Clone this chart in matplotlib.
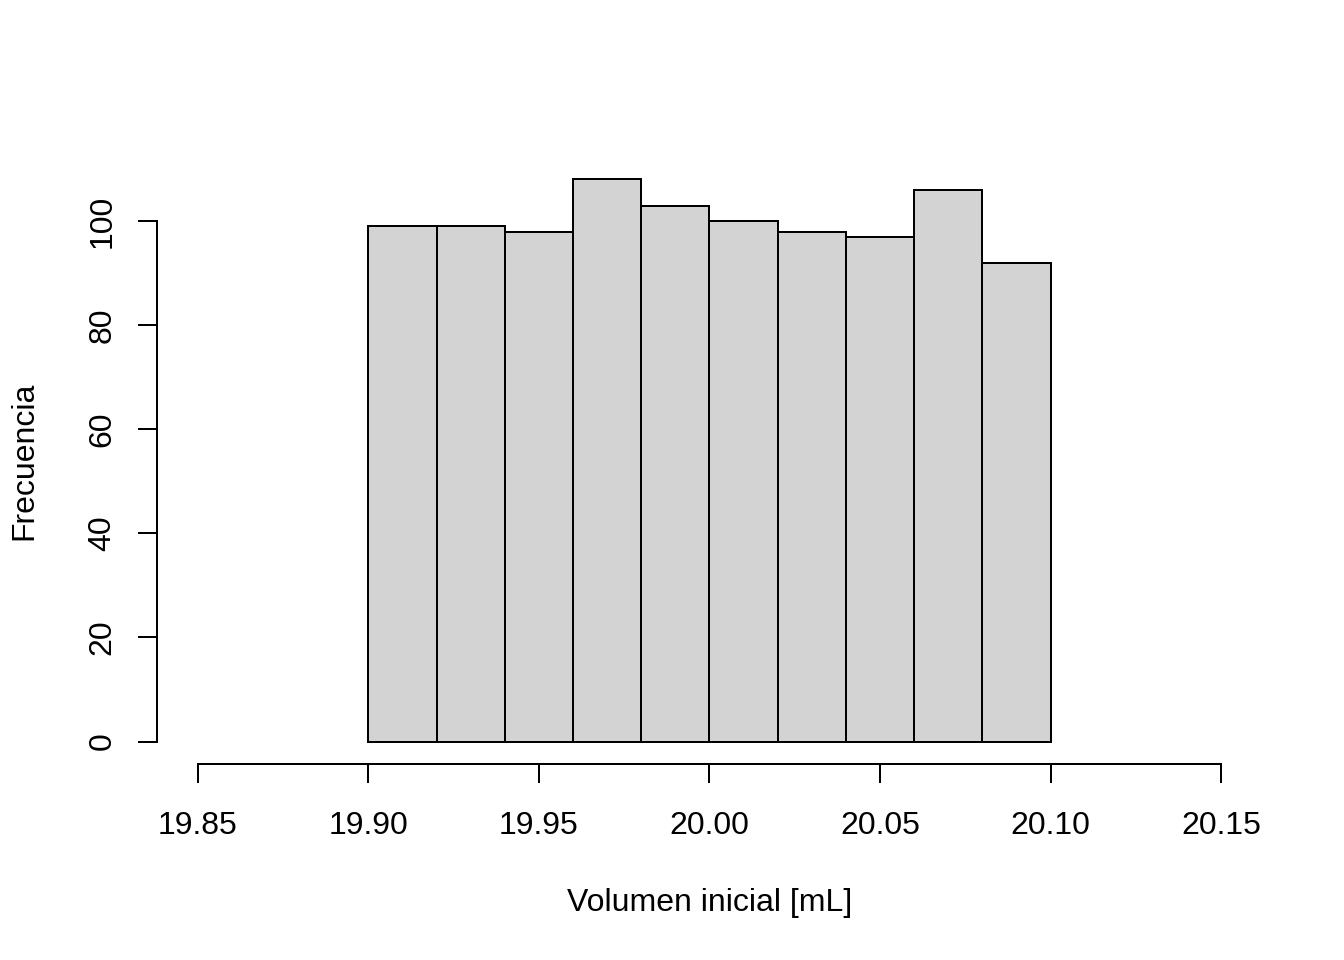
import matplotlib
matplotlib.use("Agg")
import matplotlib.pyplot as plt
import numpy as np

plt.rcParams['font.family'] = ['Liberation Sans', 'DejaVu Sans']

bin_edges = [19.90, 19.92, 19.94, 19.96, 19.98, 20.00, 20.02, 20.04, 20.06, 20.08, 20.10]
counts = [99, 99, 98, 108, 103, 100, 98, 97, 106, 92]
x_ticks = [19.85, 19.90, 19.95, 20.00, 20.05, 20.10, 20.15]
x_tick_labels = ["19.85", "19.90", "19.95", "20.00", "20.05", "20.10", "20.15"]
y_ticks = [0, 20, 40, 60, 80, 100]
x_label = "Volumen inicial [mL]"
y_label = "Frecuencia"

W, H = 1344, 960
dpi = 192
fig = plt.figure(figsize=(W / dpi, H / dpi), dpi=dpi)
left, right, top, bottom = 157, 1262, 157, 764
ax = fig.add_axes([left / W, 1 - bottom / H, (right - left) / W, (bottom - top) / H])

lw = 0.75
edges = np.array(bin_edges)
ax.bar(edges[:-1], counts, width=np.diff(edges), align='edge',
       color='#D3D3D3', edgecolor='black', linewidth=lw)

xr = x_ticks[-1] - x_ticks[0]
ax.set_xlim(x_ticks[0] - 0.04 * xr, x_ticks[-1] + 0.04 * xr)
ymax = max(counts)
ax.set_ylim(-0.04 * ymax, ymax * 1.04)

for s in ['top', 'right']:
    ax.spines[s].set_visible(False)
ax.spines['left'].set_bounds(y_ticks[0], y_ticks[-1])
ax.spines['bottom'].set_bounds(x_ticks[0], x_ticks[-1])
ax.spines['left'].set_linewidth(lw)
ax.spines['bottom'].set_linewidth(lw)

ax.set_xticks(x_ticks)
ax.set_xticklabels(x_tick_labels)
ax.set_yticks(y_ticks)
ax.set_yticklabels([str(v) for v in y_ticks], rotation=90, va='center')
ax.tick_params(axis='both', length=7.2, width=lw, labelsize=12, direction='out')
ax.tick_params(axis='x', pad=10.3)
ax.tick_params(axis='y', pad=7.6)

fig.text(((left + right) / 2) / W, 1 - 903 / H, x_label, ha='center', va='center', fontsize=12)
fig.text(24 / W, 1 - ((top + bottom) / 2) / H, y_label, ha='center', va='center',
         rotation=90, fontsize=12)

fig.savefig("out.png", dpi=dpi)
